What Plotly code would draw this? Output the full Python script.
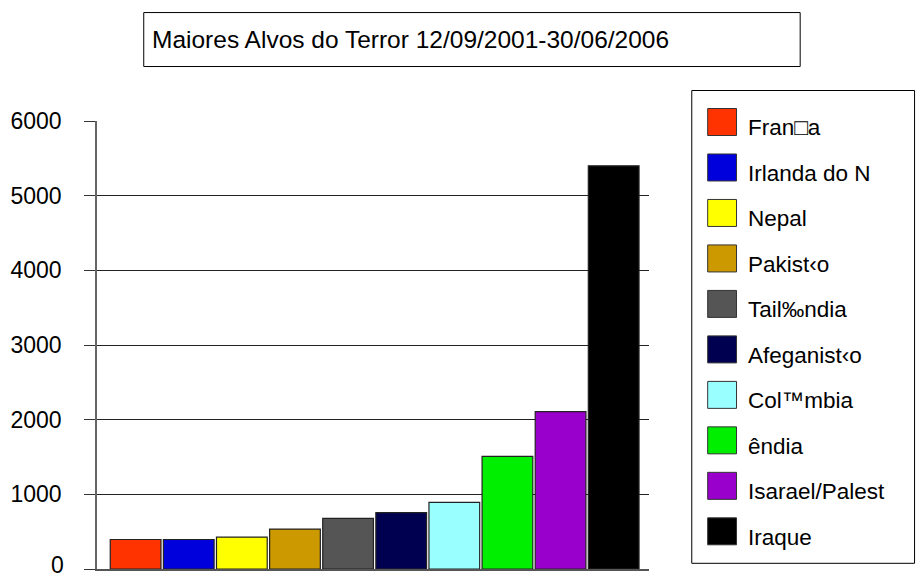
import plotly.graph_objects as go

# Country names as labelled in the legend, with casualty counts per country
countries = ["Fran\u25a1a", "Irlanda do N", "Nepal", "Pakist\u2039o", "Tail\u2030ndia",
             "Afeganist\u2039o", "Col\u2122mbia", "\u00eandia", "Isarael/Palest", "Iraque"]
victims = [395, 395, 428, 535, 679, 755, 893, 1509, 2107, 5400]
colors = ["#FF3300", "#0000DD", "#FFFF00", "#CC9900", "#555555",
          "#000050", "#99FFFF", "#00EE00", "#9900CC", "#000000"]
y_ticks = [0, 1000, 2000, 3000, 4000, 5000, 6000]
title_text = "Maiores Alvos do Terror 12/09/2001-30/06/2006"

W, H = 922, 579
ML, MR, MT, MB = 94, 273, 120.5, 10.3
PW = W - ML - MR
PH = H - MT - MB


def px(x):
    return (x - ML) / PW


def py(y):
    return (H - MB - y) / PH


FONT = "Liberation Sans, Arial, sans-serif"

fig = go.Figure()
fig.add_trace(go.Bar(
    x=countries,
    y=victims,
    marker=dict(color=colors, line=dict(color="#222222", width=1.2)),
    showlegend=False,
    hoverinfo="x+y",
))

shapes = []
annotations = []

# Title box
shapes.append(dict(type="rect", xref="paper", yref="paper",
                   x0=px(141), x1=px(801), y0=py(66), y1=py(12),
                   line=dict(color="#000000", width=1), fillcolor="white"))
annotations.append(dict(text=title_text, xref="paper", yref="paper",
                        x=px(147), y=py(39), xanchor="left", yanchor="middle",
                        showarrow=False, font=dict(family=FONT, size=24.5, color="#000000")))

# Legend box with large square swatches
shapes.append(dict(type="rect", xref="paper", yref="paper",
                   x0=px(692), x1=px(916), y0=py(563), y1=py(90),
                   line=dict(color="#000000", width=1), fillcolor="white"))
row_top = 121.5
row_step = 45.5
for i, (name, col) in enumerate(zip(countries, colors)):
    cy = row_top + i * row_step
    shapes.append(dict(type="rect", xref="paper", yref="paper",
                       x0=px(708), x1=px(737), y0=py(cy + 13.5), y1=py(cy - 13.5),
                       line=dict(color="#333333", width=1), fillcolor=col))
    annotations.append(dict(text=name, xref="paper", yref="paper",
                            x=px(747), y=py(cy + 6), xanchor="left", yanchor="middle",
                            showarrow=False,
                            font=dict(family=FONT, size=22.5, color="#000000")))

# The lowest tick label sits right at the bottom edge of the page; place it
# explicitly so it stays fully inside
annotations.append(dict(text=str(y_ticks[0]), xref="paper", yref="paper",
                        x=px(63), y=py(564.5), xanchor="right", yanchor="middle",
                        showarrow=False,
                        font=dict(family=FONT, size=23, color="#000000")))

fig.update_layout(
    width=W, height=H,
    margin=dict(l=ML, r=MR, t=MT, b=MB, pad=0),
    paper_bgcolor="white",
    plot_bgcolor="white",
    bargap=0.045,
    font=dict(family=FONT, size=22, color="#000000"),
    shapes=shapes,
    annotations=annotations,
)
fig.update_xaxes(
    type="category",
    range=[-0.727, 9.665],
    showticklabels=False,
    ticks="",
    showgrid=False,
    showline=True, linecolor="#555555", linewidth=1.5,
    zeroline=False,
)
fig.update_yaxes(
    range=[0, 6000],
    tickvals=y_ticks,
    ticktext=["" if v == 0 else str(v) for v in y_ticks],
    ticks="outside", ticklen=11, tickcolor="#333333", tickwidth=1,
    ticklabelstandoff=18,
    showgrid=True, gridcolor="#222222", gridwidth=1,
    showline=True, linecolor="#666666", linewidth=1.5,
    zeroline=False,
    tickfont=dict(family=FONT, size=23, color="#000000"),
)

fig.write_html("out.html")
